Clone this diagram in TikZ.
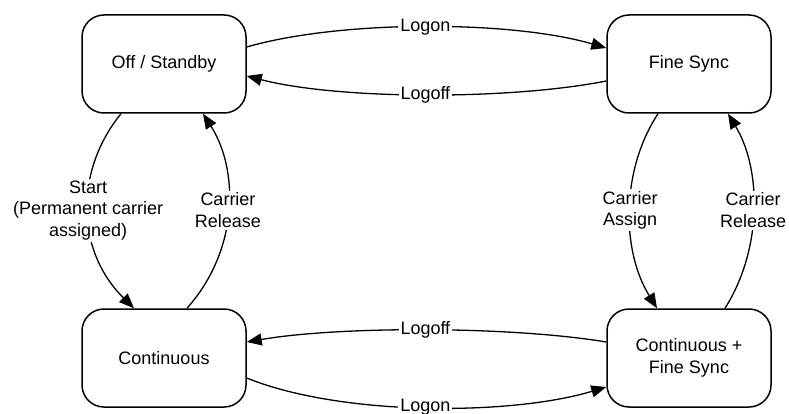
\documentclass[tikz,border=0pt]{standalone}
\usepackage{fontspec}
\setmainfont{Liberation Sans}
\usetikzlibrary{arrows.meta}
\begin{document}
\begin{tikzpicture}[x=1pt,y=-1pt,
  state/.style={draw,line width=1.5pt,rounded corners=22pt,minimum width=164pt,minimum height=98pt,align=center,font=\fontsize{18}{21.5}\selectfont,inner sep=0pt},
  conn/.style={line width=1.3pt,-{Triangle[length=15pt,width=12pt]}},
  lbl/.style={fill=white,inner sep=2pt,align=center,font=\fontsize{18}{21.5}\selectfont}]
\useasboundingbox (0,0) rectangle (789,414);
\node[state] (off) at (164,64) {Off / Standby};
\node[state] (fine) at (689,64) {Fine Sync};
\node[state] (cont) at (164,358) {Continuous};
\node[state] (cfs) at (689,358) {Continuous +\\Fine Sync};
% top
\draw[conn] ([yshift=17pt]off.east) .. controls (340,20) and (510,20) .. node[lbl,pos=0.5]{Logon} ([yshift=16pt]fine.west);
\draw[conn] ([yshift=-17pt]fine.west) .. controls (510,100) and (340,100) .. node[lbl,pos=0.5]{Logoff} ([yshift=-12pt]off.east);
% bottom
\draw[conn] ([yshift=16pt]cfs.west) .. controls (510,326) and (340,326) .. node[lbl,pos=0.5]{Logoff} ([yshift=16pt]cont.east);
\draw[conn] ([yshift=-20pt]cont.east) .. controls (340,416) and (510,416) .. node[lbl,pos=0.5]{Logon} ([yshift=-29pt]cfs.west);
% left
\draw[conn] ([xshift=-43pt]off.south) .. controls (75,170) and (75,250) .. node[lbl,pos=0.5]{Start\\(Permanent carrier\\assigned)} ([xshift=-30pt]cont.north);
\draw[conn] ([xshift=23pt]cont.north) .. controls (239,250) and (239,170) .. node[lbl,pos=0.5]{Carrier\\Release} ([xshift=39pt]off.south);
% right
\draw[conn] ([xshift=-31pt]fine.south) .. controls (621,170) and (621,250) .. node[lbl,pos=0.5]{Carrier\\Assign} ([xshift=-32pt]cfs.north);
\draw[conn] ([xshift=36pt]cfs.north) .. controls (762,250) and (762,170) .. node[lbl,pos=0.5]{Carrier\\Release} ([xshift=39pt]fine.south);
\end{tikzpicture}
\end{document}
